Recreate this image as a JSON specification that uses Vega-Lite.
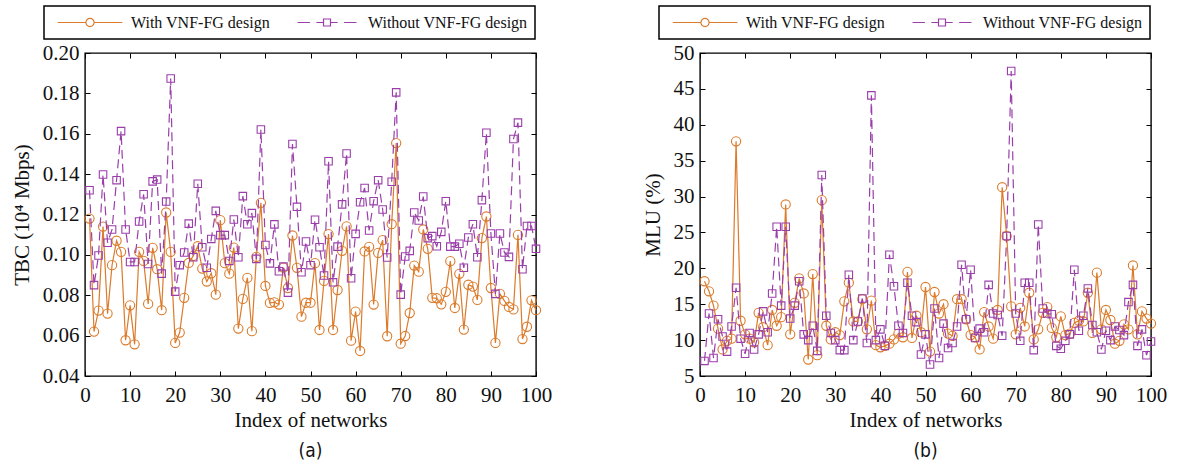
{
  "$schema": "https://vega.github.io/schema/vega-lite/v6.json",
  "padding": {"left": 10, "top": 4, "right": 5, "bottom": 2},
  "datasets": {
    "a": [
      {"i":1,"w":0.118,"wo":0.132},{"i":2,"w":0.062,"wo":0.085},{"i":3,"w":0.0724,"wo":0.0997},{"i":4,"w":0.114,"wo":0.1398},{"i":5,"w":0.0709,"wo":0.106},
      {"i":6,"w":0.0949,"wo":0.1126},{"i":7,"w":0.107,"wo":0.137},{"i":8,"w":0.1015,"wo":0.1613},{"i":9,"w":0.0577,"wo":0.1126},{"i":10,"w":0.075,"wo":0.0965},
      {"i":11,"w":0.0557,"wo":0.0965},{"i":12,"w":0.1015,"wo":0.1165},{"i":13,"w":0.097,"wo":0.13},{"i":14,"w":0.0757,"wo":0.0955},{"i":15,"w":0.1035,"wo":0.1364},
      {"i":16,"w":0.0929,"wo":0.1373},{"i":17,"w":0.0726,"wo":0.0907},{"i":18,"w":0.121,"wo":0.1264},{"i":19,"w":0.1015,"wo":0.1874},{"i":20,"w":0.0564,"wo":0.0818},
      {"i":21,"w":0.0615,"wo":0.0949},{"i":22,"w":0.0787,"wo":0.1012},{"i":23,"w":0.096,"wo":0.1155},{"i":24,"w":0.0995,"wo":0.0988},{"i":25,"w":0.1043,"wo":0.1352},
      {"i":26,"w":0.0932,"wo":0.1038},{"i":27,"w":0.0868,"wo":0.0936},{"i":28,"w":0.0909,"wo":0.1079},{"i":29,"w":0.0803,"wo":0.1218},{"i":30,"w":0.1172,"wo":0.1098},
      {"i":31,"w":0.0959,"wo":0.1098},{"i":32,"w":0.0907,"wo":0.097},{"i":33,"w":0.1036,"wo":0.1175},{"i":34,"w":0.0635,"wo":0.0988},{"i":35,"w":0.0782,"wo":0.1291},
      {"i":36,"w":0.0886,"wo":0.1152},{"i":37,"w":0.0622,"wo":0.1207},{"i":38,"w":0.099,"wo":0.098},{"i":39,"w":0.1258,"wo":0.1621},{"i":40,"w":0.0846,"wo":0.1049},
      {"i":41,"w":0.0762,"wo":0.0958},{"i":42,"w":0.0765,"wo":0.1151},{"i":43,"w":0.0754,"wo":0.0919},{"i":44,"w":0.0937,"wo":0.0942},{"i":45,"w":0.0836,"wo":0.0813},
      {"i":46,"w":0.1096,"wo":0.1549},{"i":47,"w":0.0936,"wo":0.1238},{"i":48,"w":0.0694,"wo":0.0914},{"i":49,"w":0.0763,"wo":0.1066},{"i":50,"w":0.0763,"wo":0.0949},
      {"i":51,"w":0.0959,"wo":0.1174},{"i":52,"w":0.0628,"wo":0.1038},{"i":53,"w":0.0871,"wo":0.0898},{"i":54,"w":0.1103,"wo":0.1464},{"i":55,"w":0.0628,"wo":0.0864},
      {"i":56,"w":0.0826,"wo":0.1041},{"i":57,"w":0.102,"wo":0.125},{"i":58,"w":0.1141,"wo":0.1502},{"i":59,"w":0.0575,"wo":0.0884},{"i":60,"w":0.0719,"wo":0.1104},
      {"i":61,"w":0.0524,"wo":0.1261},{"i":62,"w":0.1017,"wo":0.1331},{"i":63,"w":0.104,"wo":0.1121},{"i":64,"w":0.0754,"wo":0.1266},{"i":65,"w":0.101,"wo":0.137},
      {"i":66,"w":0.1073,"wo":0.1225},{"i":67,"w":0.0597,"wo":0.0987},{"i":68,"w":0.1152,"wo":0.1362},{"i":69,"w":0.1554,"wo":0.1805},{"i":70,"w":0.056,"wo":0.0803},
      {"i":71,"w":0.0598,"wo":0.0992},{"i":72,"w":0.0712,"wo":0.102},{"i":73,"w":0.0947,"wo":0.121},{"i":74,"w":0.0917,"wo":0.117},{"i":75,"w":0.1126,"wo":0.1289},
      {"i":76,"w":0.103,"wo":0.1083},{"i":77,"w":0.0787,"wo":0.1093},{"i":78,"w":0.0785,"wo":0.1043},{"i":79,"w":0.0755,"wo":0.1114},{"i":80,"w":0.0817,"wo":0.1266},
      {"i":81,"w":0.0969,"wo":0.1041},{"i":82,"w":0.0737,"wo":0.1041},{"i":83,"w":0.0906,"wo":0.1055},{"i":84,"w":0.063,"wo":0.0936},{"i":85,"w":0.0852,"wo":0.1086},
      {"i":86,"w":0.0843,"wo":0.1152},{"i":87,"w":0.0777,"wo":0.0988},{"i":88,"w":0.1083,"wo":0.1271},{"i":89,"w":0.119,"wo":0.1605},{"i":90,"w":0.0836,"wo":0.1106},
      {"i":91,"w":0.0564,"wo":0.0807},{"i":92,"w":0.0807,"wo":0.1106},{"i":93,"w":0.0772,"wo":0.1012},{"i":94,"w":0.0742,"wo":0.099},{"i":95,"w":0.073,"wo":0.1574},
      {"i":96,"w":0.1099,"wo":0.1655},{"i":97,"w":0.0583,"wo":0.0929},{"i":98,"w":0.0644,"wo":0.1143},{"i":99,"w":0.0775,"wo":0.1143},{"i":100,"w":0.0726,"wo":0.103}
    ],
    "b": [
      {"i":1,"w":18.2,"wo":7.1},{"i":2,"w":16.8,"wo":13.7},{"i":3,"w":14.8,"wo":7.5},{"i":4,"w":11.6,"wo":12.9},{"i":5,"w":8.7,"wo":10.5},
      {"i":6,"w":9.9,"wo":8.4},{"i":7,"w":10.2,"wo":11.9},{"i":8,"w":37.7,"wo":17.3},{"i":9,"w":12.7,"wo":10.2},{"i":10,"w":10.8,"wo":8.1},
      {"i":11,"w":10.2,"wo":11.0},{"i":12,"w":9.7,"wo":8.7},{"i":13,"w":13.8,"wo":10.8},{"i":14,"w":11.8,"wo":14.0},{"i":15,"w":9.3,"wo":11.1},
      {"i":16,"w":14.2,"wo":16.5},{"i":17,"w":12.0,"wo":25.8},{"i":18,"w":13.2,"wo":14.8},{"i":19,"w":28.9,"wo":25.8},{"i":20,"w":10.8,"wo":13.0},
      {"i":21,"w":15.2,"wo":14.8},{"i":22,"w":18.6,"wo":18.2},{"i":23,"w":16.5,"wo":10.8},{"i":24,"w":7.3,"wo":10.0},{"i":25,"w":19.2,"wo":12.0},
      {"i":26,"w":7.9,"wo":8.5},{"i":27,"w":29.5,"wo":33.0},{"i":28,"w":12.0,"wo":13.4},{"i":29,"w":10.1,"wo":11.0},{"i":30,"w":11.1,"wo":10.0},
      {"i":31,"w":10.7,"wo":8.6},{"i":32,"w":15.4,"wo":8.6},{"i":33,"w":18.0,"wo":19.1},{"i":34,"w":12.6,"wo":10.0},{"i":35,"w":12.6,"wo":12.6},
      {"i":36,"w":15.7,"wo":15.8},{"i":37,"w":11.5,"wo":9.6},{"i":38,"w":15.5,"wo":44.1},{"i":39,"w":9.3,"wo":10.0},{"i":40,"w":9.0,"wo":11.5},
      {"i":41,"w":9.2,"wo":9.2},{"i":42,"w":9.5,"wo":21.9},{"i":43,"w":10.1,"wo":17.5},{"i":44,"w":10.9,"wo":12.0},{"i":45,"w":10.4,"wo":11.0},
      {"i":46,"w":19.5,"wo":18.0},{"i":47,"w":10.3,"wo":13.4},{"i":48,"w":13.4,"wo":12.5},{"i":49,"w":11.1,"wo":8.0},{"i":50,"w":17.4,"wo":10.8},
      {"i":51,"w":8.4,"wo":6.6},{"i":52,"w":16.7,"wo":14.4},{"i":53,"w":13.7,"wo":7.5},{"i":54,"w":15.0,"wo":12.3},{"i":55,"w":10.9,"wo":8.9},
      {"i":56,"w":10.6,"wo":9.6},{"i":57,"w":15.7,"wo":11.9},{"i":58,"w":15.7,"wo":20.5},{"i":59,"w":12.9,"wo":12.9},{"i":60,"w":10.7,"wo":19.8},
      {"i":61,"w":10.4,"wo":10.3},{"i":62,"w":8.7,"wo":11.6},{"i":63,"w":13.9,"wo":11.1},{"i":64,"w":11.9,"wo":17.7},{"i":65,"w":10.2,"wo":13.7},
      {"i":66,"w":14.2,"wo":13.5},{"i":67,"w":31.3,"wo":10.6},{"i":68,"w":24.5,"wo":24.5},{"i":69,"w":14.7,"wo":47.5},{"i":70,"w":10.8,"wo":13.7},
      {"i":71,"w":14.5,"wo":9.9},{"i":72,"w":11.9,"wo":18.0},{"i":73,"w":16.6,"wo":18.0},{"i":74,"w":10.1,"wo":8.6},{"i":75,"w":11.5,"wo":26.1},
      {"i":76,"w":13.8,"wo":14.4},{"i":77,"w":14.6,"wo":13.7},{"i":78,"w":11.7,"wo":13.6},{"i":79,"w":10.4,"wo":9.2},{"i":80,"w":13.3,"wo":8.8},
      {"i":81,"w":10.7,"wo":9.9},{"i":82,"w":10.9,"wo":10.8},{"i":83,"w":12.4,"wo":19.8},{"i":84,"w":12.7,"wo":11.3},{"i":85,"w":12.6,"wo":13.4},
      {"i":86,"w":16.6,"wo":17.2},{"i":87,"w":11.0,"wo":12.1},{"i":88,"w":19.4,"wo":11.1},{"i":89,"w":11.5,"wo":8.7},{"i":90,"w":14.2,"wo":11.3},
      {"i":91,"w":12.8,"wo":10.0},{"i":92,"w":9.5,"wo":11.9},{"i":93,"w":9.9,"wo":11.4},{"i":94,"w":12.2,"wo":10.7},{"i":95,"w":11.5,"wo":15.3},
      {"i":96,"w":20.4,"wo":17.7},{"i":97,"w":10.8,"wo":9.2},{"i":98,"w":14.0,"wo":11.5},{"i":99,"w":13.0,"wo":7.9},{"i":100,"w":12.3,"wo":9.8}
    ]
  },
  "hconcat": [
    {
      "width": 451,
      "height": 323,
      "data": {"name": "a"},
      "title": {"text": "(a)", "orient": "bottom", "anchor": "middle", "font": "DejaVu Sans Condensed, Liberation Sans Narrow, DejaVu Sans", "fontSize": 19, "fontWeight": "normal", "color": "#111", "offset": 12},
      "layer": [
        {
          "mark": {"type": "line", "strokeWidth": 1.2},
          "encoding": {
            "x": {"field": "i", "type": "quantitative", "scale": {"domain": [0, 100], "nice": false},
                  "axis": {"orient": "bottom", "values": [0,10,20,30,40,50,60,70,80,90,100], "title": "Index of networks", "labelPadding": 13, "titlePadding": 4, "labelFlush": false}},
            "y": {"field": "w", "type": "quantitative", "scale": {"domain": [0.04, 0.2], "zero": false, "nice": false},
                  "axis": {"orient": "left", "values": [0.04,0.06,0.08,0.1,0.12,0.14,0.16,0.18,0.2], "format": ".2f", "title": "TBC (10⁴ Mbps)", "labelPadding": 11, "titlePadding": 10}},
            "color": {"datum": "With VNF-FG design", "type": "nominal",
                      "scale": {"domain": ["With VNF-FG design", "Without VNF-FG design"], "range": ["#DB7B2B", "#9A3FAA"]},
                      "legend": {"orient": "none", "legendX": -41, "legendY": -47, "direction": "horizontal", "columns": 2, "title": null,
                                 "labelFont": "Liberation Serif", "labelFontSize": 16, "labelColor": "#111", "labelOffset": 2, "labelBaseline": "middle", "labelLimit": 400,
                                 "symbolSize": 5776, "clipHeight": 19, "columnPadding": 18, "padding": 7, "strokeColor": "#000",
                                 "labelExpr": "datum.label == 'Without VNF-FG design' ? datum.label + '\u00a0\u00a0\u00a0\u00a0\u00a0\u00a0' : datum.label",
                                 "encode": {
                                   "legend": {"update": {"strokeWidth": {"value": 1.5}}},
                                   "symbols": {"update": {
                                     "shape": {"signal": "datum.value === 'With VNF-FG design' ? 'M-0.85,0L-0.108,0M0.108,0L0.85,0M-0.108,0A0.108,0.108 0 1 1 0.108,0A0.108,0.108 0 1 1 -0.108,0Z' : 'M-0.776,0L-0.45,0M-0.28,0L-0.092,0M0.092,0L0.28,0M0.45,0L0.776,0M-0.092,-0.092L0.092,-0.092L0.092,0.092L-0.092,0.092Z'"},
                                     "stroke": {"signal": "datum.value === 'With VNF-FG design' ? '#DB7B2B' : '#9A3FAA'"},
                                     "fill": {"value": "transparent"},
                                     "strokeWidth": {"value": 1.2},
                                     "opacity": {"value": 1}
                                   }}
                                 }}}
          }
        },
        {
          "mark": {"type": "point", "shape": "circle", "filled": false, "size": 85, "strokeWidth": 1.1, "color": "#DB7B2B", "opacity": 1},
          "encoding": {
            "x": {"field": "i", "type": "quantitative", "axis": null},
            "y": {"field": "w", "type": "quantitative", "axis": null}
          }
        },
        {
          "mark": {"type": "line", "strokeWidth": 1.2, "color": "#9A3FAA", "strokeDash": [9, 5]},
          "encoding": {
            "x": {"field": "i", "type": "quantitative", "axis": {"orient": "top", "values": [0,10,20,30,40,50,60,70,80,90,100], "labels": false, "title": null}},
            "y": {"field": "wo", "type": "quantitative", "axis": {"orient": "right", "values": [0.04,0.06,0.08,0.1,0.12,0.14,0.16,0.18,0.2], "labels": false, "title": null}}
          }
        },
        {
          "mark": {"type": "point", "shape": "square", "filled": false, "size": 56, "strokeWidth": 1.1, "color": "#9A3FAA", "opacity": 1},
          "encoding": {
            "x": {"field": "i", "type": "quantitative", "axis": null},
            "y": {"field": "wo", "type": "quantitative", "axis": null}
          }
        }
      ],
      "resolve": {"axis": {"x": "independent", "y": "independent"}}
    },
    {
      "width": 451,
      "height": 323,
      "data": {"name": "b"},
      "title": {"text": "(b)", "orient": "bottom", "anchor": "middle", "font": "DejaVu Sans Condensed, Liberation Sans Narrow, DejaVu Sans", "fontSize": 19, "fontWeight": "normal", "color": "#111", "offset": 12},
      "layer": [
        {
          "mark": {"type": "line", "strokeWidth": 1.2},
          "encoding": {
            "x": {"field": "i", "type": "quantitative", "scale": {"domain": [0, 100], "nice": false},
                  "axis": {"orient": "bottom", "values": [0,10,20,30,40,50,60,70,80,90,100], "title": "Index of networks", "labelPadding": 13, "titlePadding": 4, "labelFlush": false}},
            "y": {"field": "w", "type": "quantitative", "scale": {"domain": [5, 50], "zero": false, "nice": false},
                  "axis": {"orient": "left", "values": [5,10,15,20,25,30,35,40,45,50], "title": "MLU (%)", "labelPadding": 11, "titlePadding": 10}},
            "color": {"datum": "With VNF-FG design", "type": "nominal",
                      "scale": {"domain": ["With VNF-FG design", "Without VNF-FG design"], "range": ["#DB7B2B", "#9A3FAA"]},
                      "legend": {"orient": "none", "legendX": -41, "legendY": -47, "direction": "horizontal", "columns": 2, "title": null,
                                 "labelFont": "Liberation Serif", "labelFontSize": 16, "labelColor": "#111", "labelOffset": 2, "labelBaseline": "middle", "labelLimit": 400,
                                 "symbolSize": 5776, "clipHeight": 19, "columnPadding": 18, "padding": 7, "strokeColor": "#000",
                                 "labelExpr": "datum.label == 'Without VNF-FG design' ? datum.label + '\u00a0\u00a0\u00a0\u00a0\u00a0\u00a0' : datum.label",
                                 "encode": {
                                   "legend": {"update": {"strokeWidth": {"value": 1.5}}},
                                   "symbols": {"update": {
                                     "shape": {"signal": "datum.value === 'With VNF-FG design' ? 'M-0.85,0L-0.108,0M0.108,0L0.85,0M-0.108,0A0.108,0.108 0 1 1 0.108,0A0.108,0.108 0 1 1 -0.108,0Z' : 'M-0.776,0L-0.45,0M-0.28,0L-0.092,0M0.092,0L0.28,0M0.45,0L0.776,0M-0.092,-0.092L0.092,-0.092L0.092,0.092L-0.092,0.092Z'"},
                                     "stroke": {"signal": "datum.value === 'With VNF-FG design' ? '#DB7B2B' : '#9A3FAA'"},
                                     "fill": {"value": "transparent"},
                                     "strokeWidth": {"value": 1.2},
                                     "opacity": {"value": 1}
                                   }}
                                 }}}
          }
        },
        {
          "mark": {"type": "point", "shape": "circle", "filled": false, "size": 85, "strokeWidth": 1.1, "color": "#DB7B2B", "opacity": 1},
          "encoding": {
            "x": {"field": "i", "type": "quantitative", "axis": null},
            "y": {"field": "w", "type": "quantitative", "axis": null}
          }
        },
        {
          "mark": {"type": "line", "strokeWidth": 1.2, "color": "#9A3FAA", "strokeDash": [9, 5]},
          "encoding": {
            "x": {"field": "i", "type": "quantitative", "axis": {"orient": "top", "values": [0,10,20,30,40,50,60,70,80,90,100], "labels": false, "title": null}},
            "y": {"field": "wo", "type": "quantitative", "axis": {"orient": "right", "values": [5,10,15,20,25,30,35,40,45,50], "labels": false, "title": null}}
          }
        },
        {
          "mark": {"type": "point", "shape": "square", "filled": false, "size": 56, "strokeWidth": 1.1, "color": "#9A3FAA", "opacity": 1},
          "encoding": {
            "x": {"field": "i", "type": "quantitative", "axis": null},
            "y": {"field": "wo", "type": "quantitative", "axis": null}
          }
        }
      ],
      "resolve": {"axis": {"x": "independent", "y": "independent"}}
    }
  ],
  "spacing": 164,
  "bounds": "flush",
  "resolve": {"scale": {"color": "independent", "y": "independent", "x": "independent"}, "legend": {"color": "independent"}},
  "config": {
    "font": "Liberation Serif",
    "view": {"stroke": "#000", "strokeWidth": 1.4},
    "axis": {"domain": false, "grid": false, "ticks": true, "tickSize": -5, "tickColor": "#000", "tickWidth": 1,
             "labelFont": "Liberation Serif", "labelFontSize": 21, "labelColor": "#111",
             "titleFont": "Liberation Serif", "titleFontSize": 21, "titleFontWeight": "normal", "titleColor": "#111"}
  }
}
